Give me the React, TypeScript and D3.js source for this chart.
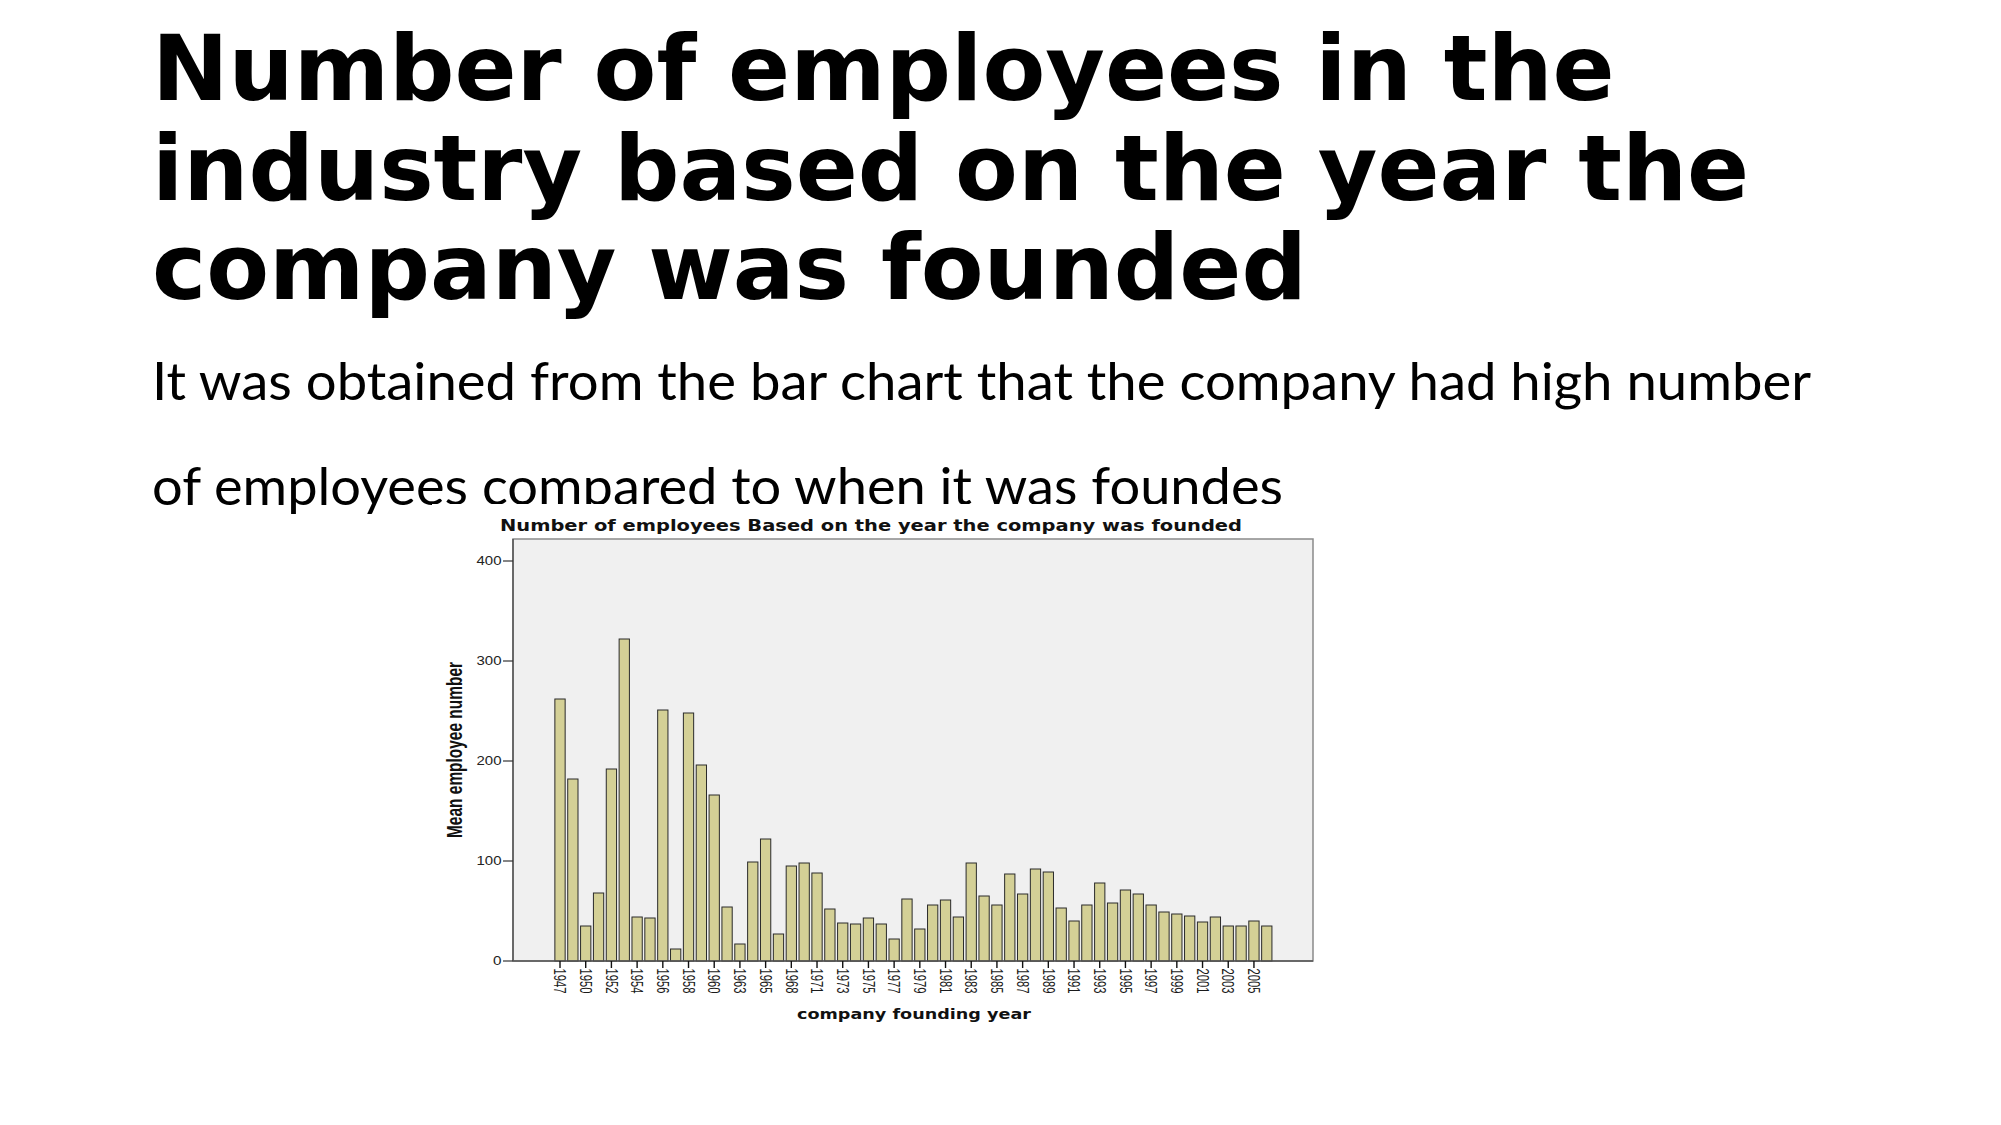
import React from "react";
import * as d3 from "d3";

const headingLines = [
  "Number of employees in the",
  "industry based on the year the",
  "company was founded",
];
const bodyLines = [
  "It was obtained from the bar chart that the company had high number",
  "of employees compared to when it was foundes",
];
const chartTitle = "Number of employees Based on the year the company was founded";
const yAxisTitle = "Mean employee number";
const xAxisTitle = "company founding year";

const years = [
  1947, 1949, 1950, 1951, 1952, 1953, 1954, 1955, 1956, 1957, 1958, 1959, 1960, 1962,
  1963, 1964, 1965, 1967, 1968, 1970, 1971, 1972, 1973, 1974, 1975, 1976, 1977, 1978,
  1979, 1980, 1981, 1982, 1983, 1984, 1985, 1986, 1987, 1988, 1989, 1990, 1991, 1992,
  1993, 1994, 1995, 1996, 1997, 1998, 1999, 2000, 2001, 2002, 2003, 2004, 2005, 2006,
];
const meanEmployees = [
  262, 182, 35, 68, 192, 322, 44, 43, 251, 12, 248, 196, 166, 54, 17, 99, 122, 27, 95, 98,
  88, 52, 38, 37, 43, 37, 22, 62, 32, 56, 61, 44, 98, 65, 56, 87, 67, 92, 89, 53, 40, 56,
  78, 58, 71, 67, 56, 49, 47, 45, 39, 44, 35, 35, 40, 35,
];
const yTicks = [0, 100, 200, 300, 400];

export default function App() {
  const box = { x0: 513, x1: 1313, y0: 539, y1: 961 };
  const x = d3
    .scaleBand<number>()
    .domain(years)
    .range([552.3, 1274.5])
    .paddingInner(0.2)
    .paddingOuter(0.2);
  const y = d3.scaleLinear().domain([0, 422]).range([box.y1, box.y0]);
  const bw = x.bandwidth();

  return (
    <svg
      width={2001}
      height={1125}
      style={{ position: "absolute", left: 0, top: 0, display: "block", background: "#fff" }}
    >
      {headingLines.map((t, i) => (
        <text
          key={t}
          x={152}
          y={100 + i * 99.5}
          fontFamily="'DejaVu Sans', sans-serif"
          fontWeight="bold"
          fontSize={91.5}
          fill="#000"
        >
          {t}
        </text>
      ))}
      {bodyLines.map((t, i) => (
        <text
          key={t}
          x={152}
          y={400 + i * 105}
          fontFamily="Lato, sans-serif"
          fontSize={53}
          fill="#000"
          textLength={i === 0 ? 1659 : 1131}
          lengthAdjust="spacingAndGlyphs"
        >
          {t}
        </text>
      ))}
      {/* chart image area */}
      <rect x={432} y={504} width={960} height={560} fill="#fff" />
      <text
        x={500}
        y={531}
        fontFamily="'DejaVu Sans', sans-serif"
        fontWeight="bold"
        fontSize={16}
        fill="#111"
        textLength={742}
        lengthAdjust="spacingAndGlyphs"
      >
        {chartTitle}
      </text>
      <rect
        x={box.x0}
        y={box.y0}
        width={box.x1 - box.x0}
        height={box.y1 - box.y0}
        fill="#f0f0f0"
        stroke="#8a8a8a"
        strokeWidth={1.5}
      />
      {meanEmployees.map((v, i) => (
        <rect
          key={years[i]}
          x={x(years[i])!}
          y={y(v)}
          width={bw}
          height={y(0) - y(v)}
          fill="#d4d096"
          stroke="#2a2a2a"
          strokeWidth={1}
        />
      ))}
      <line x1={box.x0} x2={box.x1} y1={box.y1} y2={box.y1} stroke="#555" strokeWidth={1.5} />
      <line x1={box.x0} x2={box.x0} y1={box.y0} y2={box.y1} stroke="#555" strokeWidth={1.5} />
      {yTicks.map((t) => (
        <g key={t}>
          <line x1={503} x2={box.x0} y1={y(t)} y2={y(t)} stroke="#333" strokeWidth={1.2} />
          <text
            x={501.5}
            y={y(t)}
            dy="0.35em"
            textAnchor="end"
            fontFamily="'Liberation Sans', Arial, sans-serif"
            fontSize={12}
            fill="#222"
            textLength={t === 0 ? 8.5 : 25}
            lengthAdjust="spacingAndGlyphs"
          >
            {t}
          </text>
        </g>
      ))}
      {years.map((yr, i) =>
        i % 2 === 0 ? (
          <g key={yr}>
            <line
              x1={x(yr)! + bw / 2}
              x2={x(yr)! + bw / 2}
              y1={box.y1}
              y2={968}
              stroke="#111"
              strokeWidth={1.4}
            />
            <text
              transform={`translate(${x(yr)! + bw / 2},${968.5}) scale(1.4,1) rotate(90)`}
              dominantBaseline="central"
              fontFamily="'Liberation Sans', Arial, sans-serif"
              fontSize={11.5}
              fill="#1a1a1a"
              textLength={25}
              lengthAdjust="spacingAndGlyphs"
            >
              {yr}
            </text>
          </g>
        ) : null
      )}
      <text
        transform={`translate(462,750) scale(1.5,1) rotate(-90)`}
        textAnchor="middle"
        fontFamily="'Liberation Sans Narrow', 'Liberation Sans', Arial, sans-serif"
        fontWeight="bold"
        fontSize={14.5}
        fill="#111"
        textLength={176}
        lengthAdjust="spacingAndGlyphs"
      >
        {yAxisTitle}
      </text>
      <text
        x={797}
        y={1019}
        fontFamily="'DejaVu Sans', sans-serif"
        fontWeight="bold"
        fontSize={14.5}
        fill="#111"
        textLength={234}
        lengthAdjust="spacingAndGlyphs"
      >
        {xAxisTitle}
      </text>
    </svg>
  );
}
